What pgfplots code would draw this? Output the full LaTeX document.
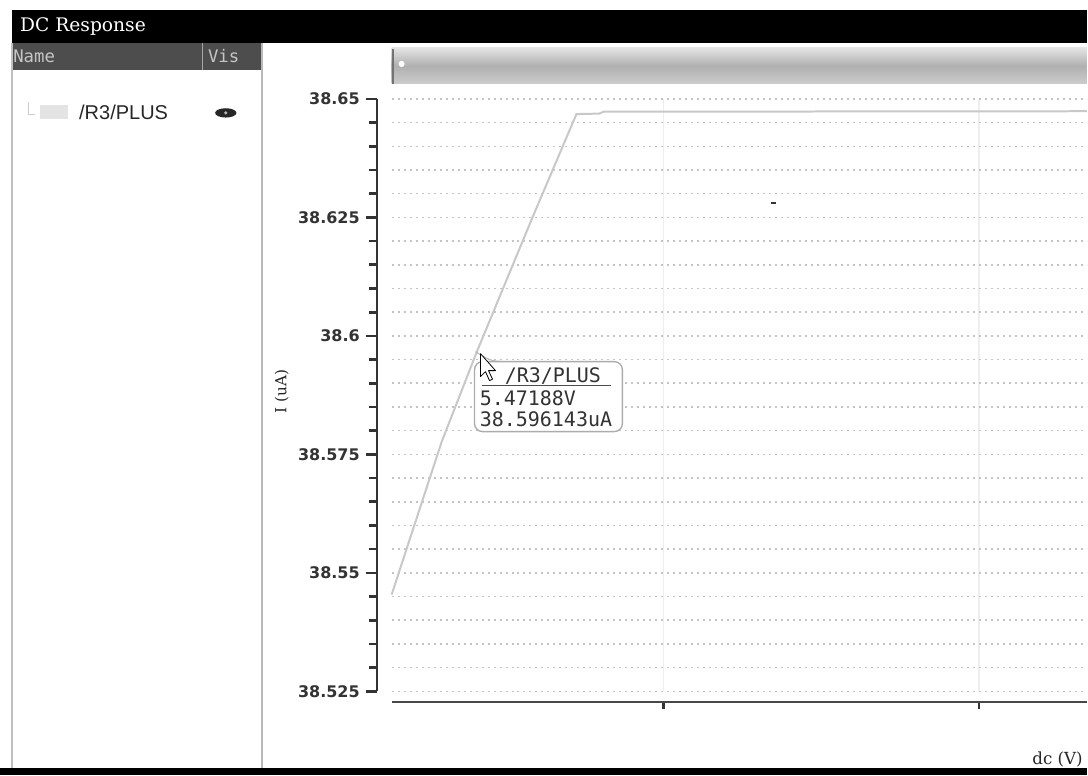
\documentclass[border=0pt]{standalone}
\usepackage{fontspec}
\usepackage{pgfplots}
\pgfplotsset{compat=1.18}
\newfontfamily\djs{DejaVu Sans}
\newfontfamily\djserif{DejaVu Serif}
\newfontfamily\djmono{DejaVu Sans Mono}
\newfontfamily\libsans{Liberation Sans}
\definecolor{hdr}{HTML}{4D4D4D}
\definecolor{gridc}{HTML}{C4C4C4}
\definecolor{curvec}{HTML}{C8C8C8}
\definecolor{axc}{HTML}{333333}
\begin{document}
\begin{tikzpicture}
\begin{scope}[x=0.75pt,y=-0.75pt]
\useasboundingbox (0,0) rectangle (1088,776);
\fill[white] (0,0) rectangle (1088,776);
% title bar
\fill[black] (12,10) rectangle (1088,43);
\node[anchor=west,text=white,font=\djserif\fontsize{14}{15}\selectfont,inner sep=0pt] at (20,27) {DC Response};
% header of left panel
\fill[hdr] (12,43) rectangle (262,70);
\draw[gray!70,line width=0.8pt] (203,43)--(203,70);
\node[anchor=west,text=gray!45,font=\djmono\fontsize{13}{14}\selectfont,inner sep=0pt] at (13,56) {Name};
\node[anchor=west,text=gray!45,font=\djmono\fontsize{13}{14}\selectfont,inner sep=0pt] at (208,56) {Vis};
% panel borders
\draw[gray!50,line width=1.5pt] (12,43)--(12,770);
\draw[gray!55,line width=1.5pt] (262,43)--(262,770);
\fill[black] (0,769) rectangle (1088,776);
% entry
\draw[gray!40,line width=0.75pt] (29,102)--(29,115)--(35,115);
\fill[gray!22] (40,105) rectangle (68,119);
\node[anchor=west,text=black!85,font=\libsans\fontsize{15}{16}\selectfont,inner sep=0pt] at (79,112) {/R3/PLUS};
\fill[black!85] (226,113) ellipse [x radius=8pt, y radius=3.5pt];
\fill[gray!60] (226,113) circle (1.3pt);
% scrollbar
\shade[top color=gray!22, bottom color=gray!40, middle color=gray!62] (392,48) rectangle (1088,84);
\draw[black!55,line width=1.5pt] (393,49)--(393,84);
\fill[white] (402,64) circle (2.3pt);
% y label
\node[rotate=90,font=\djserif\fontsize{11.5}{12}\selectfont,text=black!85] at (282,392) {I (uA)};
% x label
\node[anchor=east,font=\djserif\fontsize{12.5}{13}\selectfont,text=black!85,inner sep=0pt] at (1084,760) {dc (V)};
\end{scope}

% main plotting area
\begin{axis}[at={(294pt,-519pt)}, anchor=south west, scale only axis,
  width=522pt, height=444.75pt,
  xmin=5.1392, xmax=7.3418, ymin=38.525, ymax=38.65,
  axis line style={draw=none}, tick style={draw=none},
  xtick={6,7}, xticklabels={}, 
  ytick={38.525,38.55,38.575,38.6,38.625,38.65}, yticklabels={},
  minor y tick num=4,
  ymajorgrids, yminorgrids, xmajorgrids,
  major grid style={gridc, line width=1.2pt, dash pattern=on 1.5pt off 3pt},
  minor grid style={gridc, line width=1.2pt, dash pattern=on 1.5pt off 3pt},
  x grid style={gray!13, line width=1pt, solid},
  clip=false]
\addplot[curvec, line width=1.5pt] coordinates {
 (5.1392,38.5454) (5.2975,38.5776) (5.4082,38.5965) (5.5823,38.6245)
 (5.7247,38.6468) (5.7975,38.6469) (5.8101,38.6473) (7.3418,38.6474)};
\addplot[black!80, line width=1.6pt] coordinates {(6.340,38.6280) (6.358,38.6280)};
\end{axis}

% y axis
\begin{axis}[at={(282.75pt,-519pt)}, anchor=south west, scale only axis,
  width=1pt, height=444.75pt,
  xmin=0, xmax=1, ymin=38.525, ymax=38.65,
  axis x line=none, axis y line*=left,
  xtick=\empty,
  ytick={38.525,38.55,38.575,38.6,38.625,38.65},
  yticklabels={38.525,38.55,38.575,38.6,38.625,38.65},
  minor y tick num=4, tick align=outside,
  major tick length=8pt, minor tick length=5.5pt,
  tick style={axc, line width=2pt},
  y axis line style={axc, line width=1.6pt},
  yticklabel style={font=\djs\bfseries\fontsize{12}{13}\selectfont, text=black!80, inner sep=2pt, xshift=-2.5pt}]
\end{axis}

% x axis
\begin{axis}[at={(294pt,-527.25pt)}, anchor=south west, scale only axis,
  width=522pt, height=1pt,
  xmin=5.1392, xmax=7.3418, ymin=0, ymax=1,
  axis y line=none, axis x line*=bottom,
  ytick=\empty, xtick={6,7}, xticklabels={},
  tick align=outside, major tick length=5pt,
  tick style={axc, line width=2pt},
  x axis line style={axc!90, line width=1.6pt}]
\end{axis}

% tooltip
\begin{scope}[x=0.75pt,y=-0.75pt]
\draw[gray!55, line width=0.8pt] (476,352) .. controls (492,362) .. (515,362);
\draw[gray!65, line width=1pt, fill=white, rounded corners=6pt] (475,362) rectangle (623,432);
\node[anchor=west,text=black!80,font=\djmono\fontsize{15}{16}\selectfont,inner sep=0pt] at (505,376) {/R3/PLUS};
\draw[black!70,line width=1pt] (482,386)--(612,386);
\node[anchor=west,text=black!80,font=\djmono\fontsize{15}{16}\selectfont,inner sep=0pt] at (480,399) {5.47188V};
\node[anchor=west,text=black!80,font=\djmono\fontsize{15}{16}\selectfont,inner sep=0pt] at (480,420) {38.596143uA};
\draw[black, fill=white, line width=0.6pt, line join=round] (481,354) -- (481,377) -- (486,372) -- (490,381) -- (493,379.5) -- (489,371) -- (496,371) -- cycle;
\end{scope}
\end{tikzpicture}
\end{document}
